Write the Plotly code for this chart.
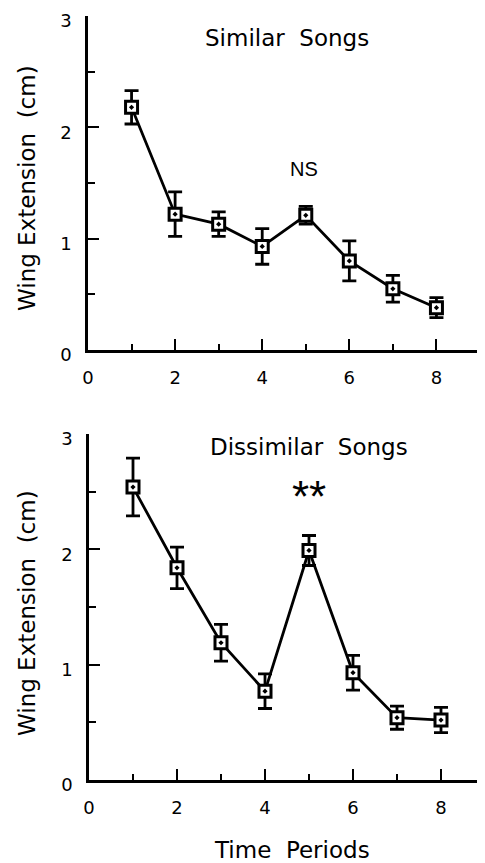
import plotly.graph_objects as go

periods = [1, 2, 3, 4, 5, 6, 7, 8]
similar_mean = [2.18, 1.22, 1.13, 0.93, 1.21, 0.80, 0.55, 0.38]
similar_err = [0.15, 0.20, 0.11, 0.16, 0.08, 0.18, 0.12, 0.09]
dissimilar_mean = [2.54, 1.84, 1.19, 0.77, 1.99, 0.93, 0.54, 0.52]
dissimilar_err = [0.25, 0.18, 0.16, 0.15, 0.13, 0.15, 0.10, 0.11]

FONT = "DejaVu Sans"
fig = go.Figure()

def add_series(y, e, xa, ya):
    fig.add_trace(go.Scatter(
        x=periods, y=y, xaxis=xa, yaxis=ya, mode="lines+markers",
        line=dict(color="black", width=2.8),
        marker=dict(symbol="square-dot", size=12, color="white",
                    line=dict(color="black", width=3)),
        error_y=dict(type="data", array=e, visible=True, color="black",
                     thickness=2.8, width=7),
        showlegend=False, cliponaxis=False))

add_series(similar_mean, similar_err, "x", "y")
add_series(dissimilar_mean, dissimilar_err, "x2", "y2")

# the page body has an 8px margin, so the figure is laid out 8px smaller
OFF = 8
W, H = 485 - OFF, 863 - OFF
def px(v):
    return (v - OFF) / W
def py(v):
    return 1 - (v - OFF) / H

xcommon = dict(range=[0, 9], dtick=2, tick0=0, ticks="inside", ticklen=11,
               tickwidth=2.2, tickcolor="black", showline=True, linecolor="black",
               linewidth=2.5, showgrid=False, zeroline=False, automargin=False,
               ticklabelstandoff=10, ticklabeloverflow="allow",
               tickfont=dict(family=FONT, size=18, color="black"),
               minor=dict(dtick=1, ticks="inside", ticklen=6, tickwidth=2.2, tickcolor="black"))
ycommon = dict(range=[0, 3], dtick=1, tick0=0, ticks="inside", ticklen=11,
               tickwidth=2.2, tickcolor="black", showline=True, linecolor="black",
               linewidth=2.5, showgrid=False, zeroline=False, automargin=False,
               ticklabelstandoff=10, ticklabeloverflow="allow", ticklabelshift=5,
               tickfont=dict(family=FONT, size=18, color="black"),
               minor=dict(dtick=0.5, ticks="inside", ticklen=7, tickwidth=2.2, tickcolor="black"))

tf = dict(family=FONT, size=23, color="black")

fig.update_layout(
    width=W, height=H, margin=dict(l=0, r=0, t=0, b=0, autoexpand=False),
    paper_bgcolor="white", plot_bgcolor="white",
    xaxis=dict(domain=[px(88), px(480)], anchor="y", **xcommon),
    yaxis=dict(domain=[py(350), py(16)], anchor="x", **ycommon),
    xaxis2=dict(domain=[px(89), 1.0], anchor="y2", **xcommon),
    yaxis2=dict(domain=[py(780), py(434)], anchor="x2", **ycommon),
    annotations=[
        dict(x=px(27), y=py(188), xref="paper", yref="paper", text="Wing Extension  (cm)",
             textangle=-90, showarrow=False, font=tf, xanchor="center", yanchor="middle"),
        dict(x=px(27), y=py(613), xref="paper", yref="paper", text="Wing Extension  (cm)",
             textangle=-90, showarrow=False, font=tf, xanchor="center", yanchor="middle"),
        dict(x=px(292), y=py(850), xref="paper", yref="paper", text="Time  Periods",
             showarrow=False, font=tf, xanchor="center", yanchor="middle"),
        dict(x=4.57, y=2.8, xref="x", yref="y", text="Similar  Songs", showarrow=False, font=tf,
             xanchor="center", yanchor="middle"),
        dict(x=4.97, y=1.63, xref="x", yref="y", text="NS", showarrow=False,
             xanchor="center", yanchor="middle",
             font=dict(family="Liberation Sans", size=20, color="black")),
        dict(x=5.0, y=2.89, xref="x2", yref="y2", text="Dissimilar  Songs", showarrow=False,
             font=tf, xanchor="center", yanchor="middle"),
        dict(x=5.0, y=2.46, xref="x2", yref="y2", text="**", showarrow=False,
             xanchor="center", yanchor="middle",
             font=dict(family="Liberation Sans", size=44, color="black")),
    ],
)

fig.write_html("out.html")
